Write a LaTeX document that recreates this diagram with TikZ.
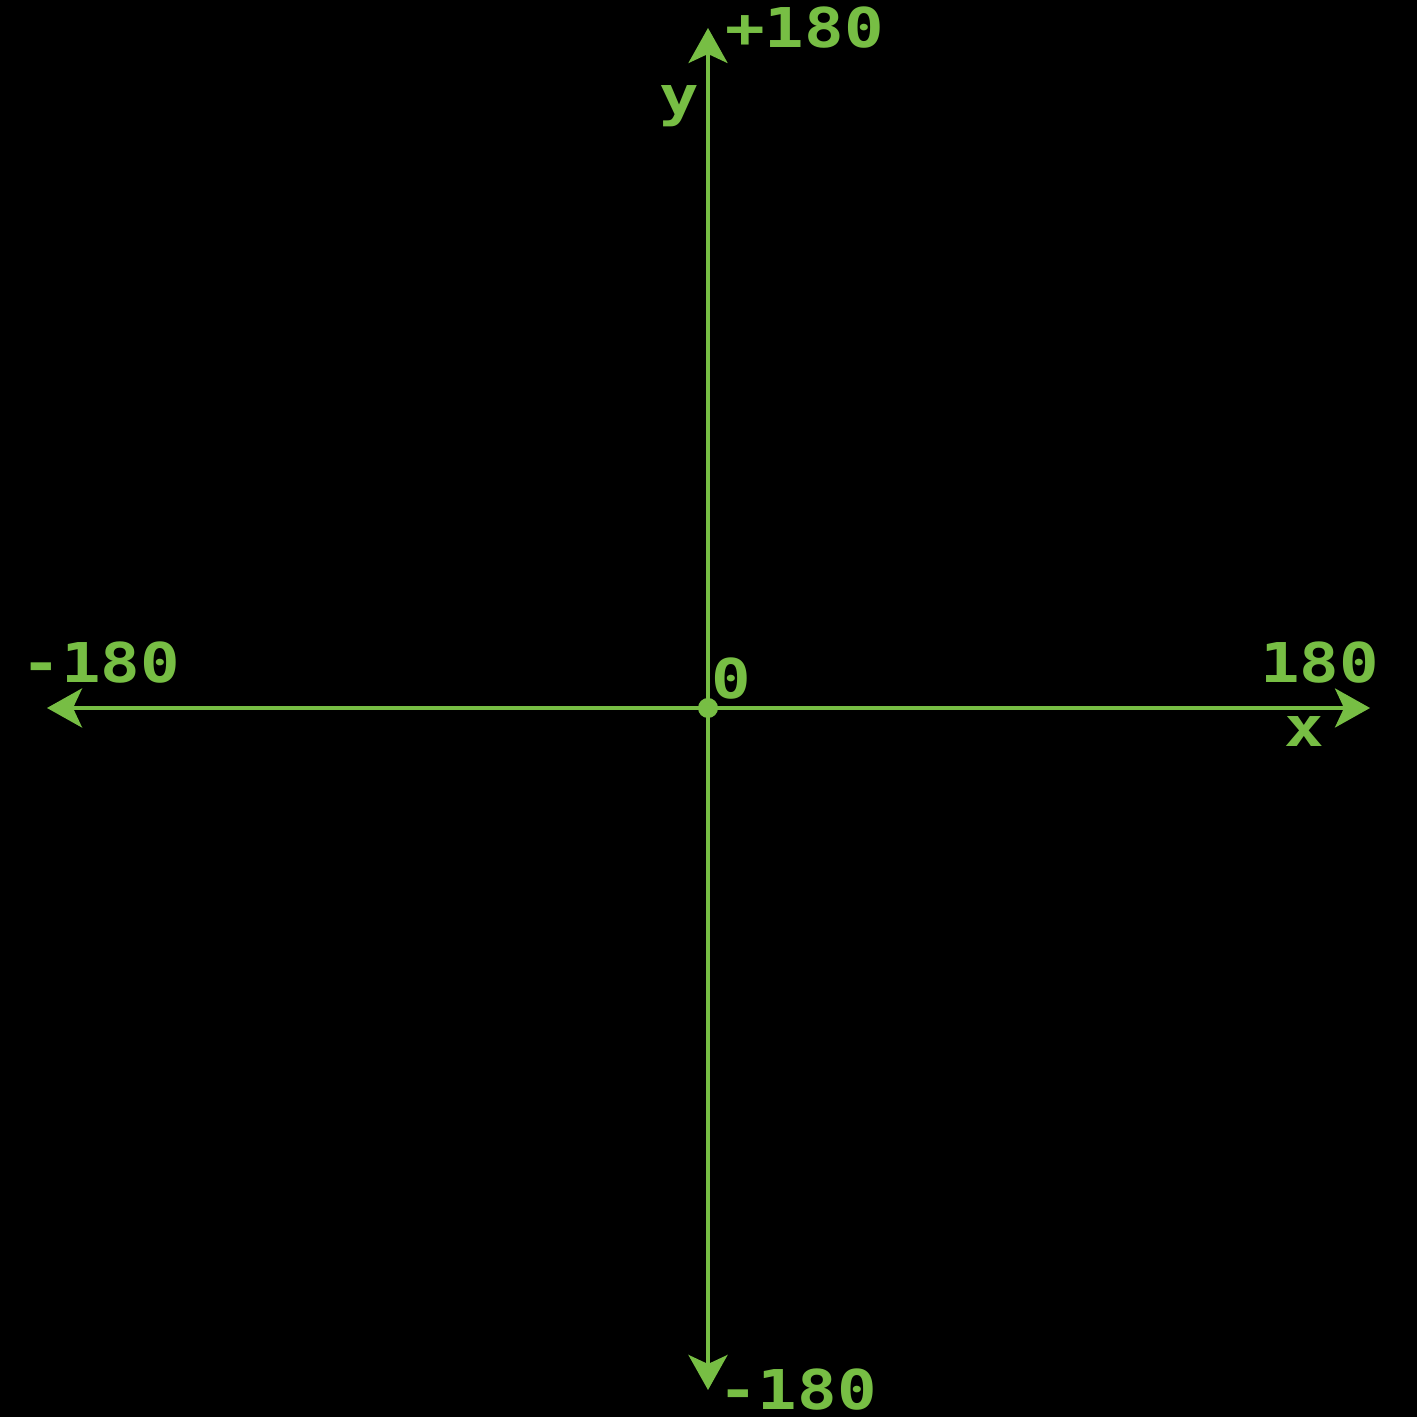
\documentclass[tikz,border=0pt]{standalone}
\usepackage{xcolor}
\usepackage{fontspec}
\usepackage{tikz}
\usetikzlibrary{arrows.meta}
\newfontfamily\pixelFont[FakeStretch=1.2]{DejaVu Sans Mono Bold}
\definecolor{screenBg}{HTML}{000000}
\definecolor{axisGreen}{HTML}{77BE44}

\begin{document}
\begin{tikzpicture}[
        axisLine/.style={draw=axisGreen, line width=1.1pt, {Stealth[length=3.5mm, width=3.9mm, inset=0.9mm]}-{Stealth[length=3.5mm, width=3.9mm, inset=0.9mm]}},
        axisLabel/.style={text=axisGreen, font=\pixelFont\fontsize{15.6pt}{16pt}\selectfont, inner sep=0pt}
    ]
        % Screen
        \fill[white] (0, 0) rectangle (14.18, 14.18);
        \fill[screenBg] (0, 0.015) rectangle (14.165, 14.18);
        \useasboundingbox (0, 0) rectangle (14.18, 14.18);

        % Axis ends
        \coordinate (origin) at (7.08, 7.10);
        \coordinate (xMin) at (0.47, 7.10);
        \coordinate (xMax) at (13.70, 7.10);
        \coordinate (yMin) at (7.08, 0.28);
        \coordinate (yMax) at (7.08, 13.90);

        % Axes
        \draw[axisLine] (xMin) -- (xMax);
        \draw[axisLine] (yMin) -- (yMax);
        \fill[axisGreen] (origin) circle (0.1);

        % Labels
        \node[axisLabel, at={(8.045, 13.90)}] (yTop) {+180};
        \node[axisLabel, at={(6.795, 13.115)}] (yName) {y};
        \node[axisLabel, at={(1.01, 7.55)}] (xLeft) {-180};
        \node[axisLabel, at={(13.195, 7.55)}] (xRight) {180};
        \node[axisLabel, at={(7.315, 7.395)}] (zero) {0};
        \node[axisLabel, at={(13.04, 6.86)}] (xName) {x};
        \node[axisLabel, at={(7.975, 0.28)}] (yBottom) {-180};
    \end{tikzpicture}
\end{document}
